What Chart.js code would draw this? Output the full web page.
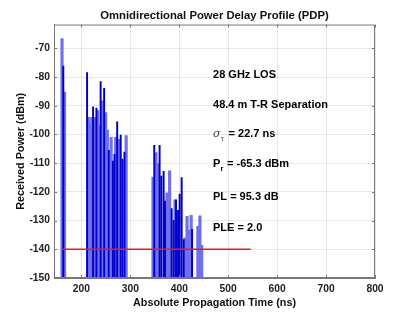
<!DOCTYPE html>
<html>
<head>
<meta charset="utf-8">
<script src="https://cdn.jsdelivr.net/npm/chart.js@4.4.1/dist/chart.umd.min.js"></script>
<style>
  html, body { margin: 0; padding: 0; background: #fff; }
  #wrap { width: 415px; height: 312px; }
</style>
</head>
<body>
<div id="wrap"><canvas id="pdp"></canvas></div>
<script>
// Light (wide) multipath components: delay (ns) and power (dBm)
const lightDelay = [160.4, 165.5, 215.1, 218.8, 221.5, 227, 233.1, 236.2, 242.4, 249.5, 253, 260.8, 270, 276.6, 291.5,
  346.3, 352.4, 356.1, 374.9, 380.3, 391.3, 411.5, 415.9, 420, 424.3, 438, 442.2, 445.8];
const lightPower = [-66.6, -85.2, -94, -96.2, -94, -94, -91.6, -97, -88.3, -92.4, -98.5, -101, -101, -101.7, -100.4,
  -114.8, -106.3, -110.1, -120.3, -112.7, -122.8, -136, -128.5, -133.4, -128.2, -132, -128.3, -138.6];

// Dark (thin) multipath components
const darkDelay = [163, 211.6, 223.9, 230.7, 239.3, 246.5, 256, 264.3, 267.6, 273.1, 280.3, 284, 288,
  348.9, 359.8, 363.3, 368, 370.8, 384.4, 388.5, 393.4, 397.5, 400.8, 404.9, 409, 426.2];
const darkPower = [-76.2, -78.4, -90.4, -90.8, -81.6, -83.9, -105.5, -109.3, -106.9, -95.6, -100.2, -108.6, -106.1,
  -103.8, -103.8, -114.5, -112.8, -123.2, -125.8, -129.9, -122.8, -126.4, -120.8, -115, -136.6, -133];

// Noise threshold line
const thresholdDelay = [160, 546];
const thresholdPower = [-140, -140];

const FLOOR = -150;

const FONT = '"Liberation Sans", Arial, Helvetica, sans-serif';

// Build floating bars that start at the floor of the axis
function toBars(delays, powers) {
  return delays.map((d, i) => ({ x: d, y: [FLOOR, powers[i]] }));
}

/**
 * Draws the MATLAB style box (top/right edges, inward ticks)
 */
const boxPlugin = {
  id: 'box',
  afterDraw(chart) {
    const { ctx, chartArea: a, scales } = chart;
    ctx.save();
    ctx.strokeStyle = '#777';
    ctx.lineWidth = 1;
    ctx.beginPath();
    ctx.rect(a.left + 0.5, a.top + 0.5, a.right - a.left - 1, a.bottom - a.top - 1);
    ctx.stroke();

    ctx.beginPath();
    scales.x.ticks.forEach(t => {
      const px = Math.round(scales.x.getPixelForValue(t.value)) + 0.5;
      ctx.moveTo(px, a.top); ctx.lineTo(px, a.top + 3);
      ctx.moveTo(px, a.bottom); ctx.lineTo(px, a.bottom - 3);
    });
    scales.y.ticks.forEach(t => {
      const py = Math.round(scales.y.getPixelForValue(t.value)) + 0.5;
      ctx.moveTo(a.left, py); ctx.lineTo(a.left + 3, py);
      ctx.moveTo(a.right, py); ctx.lineTo(a.right - 3, py);
    });
    ctx.stroke();
    ctx.restore();
  }
};

/**
 * Text block with measurement summary
 */
const notePlugin = {
  id: 'notes',
  afterDatasetsDraw(chart) {
    const { ctx, scales } = chart;
    const x = scales.x.getPixelForValue(469);
    const y = v => scales.y.getPixelForValue(v);
    const bold = 'bold 11px ' + FONT;
    ctx.save();
    ctx.fillStyle = '#000';
    ctx.textBaseline = 'middle';
    ctx.textAlign = 'left';

    ctx.font = bold;
    ctx.fillText('28 GHz LOS', x, y(-79.4));
    ctx.fillText('48.4 m T-R Separation', x, y(-89.8));

    // sigma_tau
    let yy = y(-99.9);
    ctx.font = 'italic 11px "DejaVu Serif", serif';
    ctx.fillStyle = '#444';
    ctx.fillText('σ', x, yy);
    ctx.font = 'italic 7px "DejaVu Serif", serif';
    ctx.fillText('τ', x + 7.5, yy + 4.5);
    ctx.fillStyle = '#000';
    ctx.font = bold;
    ctx.fillText('= 22.7 ns', x + 15.5, yy);

    // P_r
    yy = y(-110.3);
    ctx.fillText('P', x, yy);
    ctx.font = 'bold 7.5px ' + FONT;
    ctx.fillText('r', x + 7.5, yy + 5);
    ctx.font = bold;
    ctx.fillText('= -65.3 dBm', x + 14, yy);

    ctx.fillText('PL = 95.3 dB', x, y(-121.8));
    ctx.fillText('PLE = 2.0', x, y(-132.6));
    ctx.restore();
  }
};

new Chart(document.getElementById('pdp'), {
  type: 'bar',
  data: {
    datasets: [
      {
        label: 'Light',
        data: toBars(lightDelay, lightPower),
        backgroundColor: 'rgb(112, 112, 238)',
        borderWidth: 0,
        barThickness: 2.5,
        grouped: false,
        order: 3,
      },
      {
        label: 'Dark',
        data: toBars(darkDelay, darkPower),
        backgroundColor: 'rgb(0, 0, 200)',
        borderWidth: 0,
        barThickness: 1.3,
        grouped: false,
        order: 2,
      },
      {
        type: 'line',
        label: 'Threshold',
        data: thresholdDelay.map((d, i) => ({ x: d, y: thresholdPower[i] })),
        borderColor: 'rgb(228, 30, 30)',
        borderWidth: 1.4,
        pointRadius: 0,
        fill: false,
        order: 1,
      },
    ],
  },
  options: {
    responsive: true,
    maintainAspectRatio: false,
    animation: false,
    layout: {
      padding: { left: 0, right: 40, top: 0, bottom: 0 },
    },
    plugins: {
      legend: { display: false },
      tooltip: { enabled: false },
      title: {
        display: true,
        fullSize: false,
        text: 'Omnidirectional Power Delay Profile (PDP)',
        color: '#111',
        font: { family: FONT, size: 11.3, weight: 'bold' },
        padding: { top: 9, bottom: 2 },
      },
    },
    scales: {
      x: {
        type: 'linear',
        min: 144,
        max: 800,
        offset: false,
        afterFit: scale => { scale.height = 34; },
        grid: {
          color: 'rgba(0, 0, 0, 0.09)',
          drawTicks: false,
          offset: false,
        },
        border: { color: '#777' },
        ticks: {
          stepSize: 100,
          includeBounds: false,
          padding: 5,
          color: '#222',
          font: { family: FONT, size: 10.3, weight: 'bold' },
        },
        title: {
          display: true,
          text: 'Absolute Propagation Time (ns)',
          color: '#111',
          font: { family: FONT, size: 10.8, weight: 'bold' },
          padding: { top: 0, bottom: 2 },
        },
      },
      y: {
        min: -150,
        max: -61.7,
        afterFit: scale => { scale.width = 54; },
        grid: {
          color: 'rgba(0, 0, 0, 0.09)',
          drawTicks: false,
        },
        border: { color: '#777' },
        ticks: {
          stepSize: 10,
          includeBounds: false,
          padding: 4,
          color: '#222',
          font: { family: FONT, size: 10.3, weight: 'bold' },
        },
        title: {
          display: true,
          text: 'Received Power (dBm)',
          color: '#111',
          font: { family: FONT, size: 10.8, weight: 'bold' },
          padding: { top: 15, bottom: 0 },
        },
      },
    },
  },
  plugins: [boxPlugin, notePlugin],
});
</script>
</body>
</html>
